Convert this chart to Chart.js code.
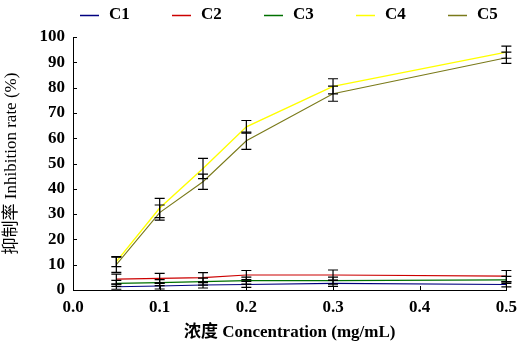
<!DOCTYPE html>
<html>
<head>
<meta charset="utf-8">
<script src="https://cdn.jsdelivr.net/npm/chart.js@4"></script>
<style>
  body { margin: 0; background: #fff; }
  #wrap { width: 524px; height: 350px; }
</style>
</head>
<body>
<div id="wrap"><canvas id="chart" width="524" height="350"></canvas></div>
<script>
const ctx = document.getElementById("chart");

// concentrations (mg/mL)
const conc = [0.05, 0.1, 0.15, 0.2, 0.3, 0.5];

const names = ["C1", "C2", "C3", "C4", "C5"];
const colors = ["#000080", "#cc0000", "#007000", "#ffff00", "#7a7a1a"];

const c1 = [1.3, 1.6, 2.0, 2.2, 2.6, 2.2];
const c2 = [4.3, 4.6, 4.9, 5.9, 5.9, 5.5];
const c3 = [2.6, 2.9, 3.3, 3.7, 3.7, 4.0];
const c4 = [11.2, 32.4, 48.0, 64.5, 80.5, 94.0];
const c5 = [10.0, 30.6, 42.8, 59.0, 77.6, 91.8];

const e1 = [1.0, 1.2, 1.2, 1.2, 1.2, 1.0];
const e2 = [2.0, 2.0, 2.0, 1.8, 2.0, 2.2];
const e3 = [1.2, 1.2, 1.4, 1.4, 1.4, 1.4];
const e4 = [2.0, 3.8, 4.0, 2.5, 3.0, 2.4];
const e5 = [3.0, 3.0, 3.0, 3.4, 3.0, 2.2];

const xTicks = [0, 0.1, 0.2, 0.3, 0.4, 0.5];
const yTicks = [0, 10, 20, 30, 40, 50, 60, 70, 80, 90, 100];

const series = [c1, c2, c3, c4, c5];
const errors = [e1, e2, e3, e4, e5];

const serif = "'Liberation Serif', 'Times New Roman', 'Noto Sans CJK SC', serif";

// error bars, drawn through the scales
const errorBars = {
  id: "errorBars",
  afterDatasetsDraw(chart) {
    const c = chart.ctx;
    const xs = chart.scales.x, ys = chart.scales.y;
    c.save();
    c.strokeStyle = "#000";
    c.lineWidth = 1.2;
    series.forEach((s, i) => {
      s.forEach((v, j) => {
        const px = xs.getPixelForValue(conc[j]);
        const top = ys.getPixelForValue(v + errors[i][j]);
        const bot = ys.getPixelForValue(Math.max(0, v - errors[i][j]));
        c.beginPath();
        c.moveTo(px, top); c.lineTo(px, bot);
        c.moveTo(px - 5, top); c.lineTo(px + 5, top);
        c.moveTo(px - 5, bot); c.lineTo(px + 5, bot);
        c.stroke();
      });
    });
    c.restore();
  },
};

// inward tick marks and the legend row
const extras = {
  id: "extras",
  afterDraw(chart) {
    const c = chart.ctx;
    const xs = chart.scales.x, ys = chart.scales.y;
    const area = chart.chartArea;
    c.save();
    c.strokeStyle = "#000";
    c.lineWidth = 1;
    c.beginPath();
    yTicks.forEach((t) => {
      const py = Math.round(ys.getPixelForValue(t)) + 0.5;
      c.moveTo(area.left, py); c.lineTo(area.left + 4, py);
    });
    xTicks.forEach((t) => {
      const px = Math.round(xs.getPixelForValue(t)) + 0.5;
      c.moveTo(px, area.bottom); c.lineTo(px, area.bottom - 4);
    });
    c.stroke();

    c.font = "bold 17px " + serif;
    c.textBaseline = "middle";
    c.fillStyle = "#000";
    c.lineWidth = 1.5;
    names.forEach((n, i) => {
      const x0 = 80 + i * 92;
      c.strokeStyle = colors[i];
      c.beginPath();
      c.moveTo(x0, 15.5); c.lineTo(x0 + 19, 15.5);
      c.stroke();
      c.fillText(n, x0 + 29, 15);
    });
    c.restore();
  },
};

new Chart(ctx, {
  type: "line",
  data: {
    datasets: names.map((n, i) => ({
      label: n,
      data: conc.map((x, j) => ({ x: x, y: series[i][j] })),
      borderColor: colors[i],
      backgroundColor: colors[i],
      borderWidth: i === 3 ? 1.4 : 1.1,
      pointRadius: 0,
      tension: 0,
    })),
  },
  options: {
    responsive: false,
    animation: false,
    layout: { padding: { left: 0, right: 17, top: 37, bottom: 0 } },
    plugins: { legend: { display: false }, tooltip: { enabled: false } },
    scales: {
      x: {
        type: "linear",
        min: 0,
        max: 0.5,
        afterFit: (s) => { s.height = 60; },
        afterBuildTicks: (s) => { s.ticks = xTicks.map((v) => ({ value: v })); },
        grid: { display: false, drawTicks: false },
        border: { display: true, color: "#000", width: 1 },
        ticks: {
          padding: 7,
          color: "#000",
          font: { family: serif, size: 17, weight: "bold" },
          callback: (v) => v.toFixed(1),
        },
        title: {
          display: true,
          text: "浓度 Concentration (mg/mL)",
          color: "#000",
          font: { family: serif, size: 17, weight: "bold" },
          padding: { top: 0, bottom: 7 },
        },
      },
      y: {
        min: 0,
        max: 100,
        afterFit: (s) => { s.width = 73; },
        afterBuildTicks: (s) => { s.ticks = yTicks.map((v) => ({ value: v })); },
        grid: { display: false, drawTicks: false },
        border: { display: true, color: "#000", width: 1 },
        ticks: {
          padding: 8,
          color: "#000",
          font: { family: serif, size: 17, weight: "bold" },
        },
        title: {
          display: true,
          text: "抑制率 Inhibition rate (%)",
          color: "#000",
          font: { family: serif, size: 17 },
          padding: { top: 1, bottom: 0 },
        },
      },
    },
  },
  plugins: [errorBars, extras],
});
</script>
</body>
</html>
